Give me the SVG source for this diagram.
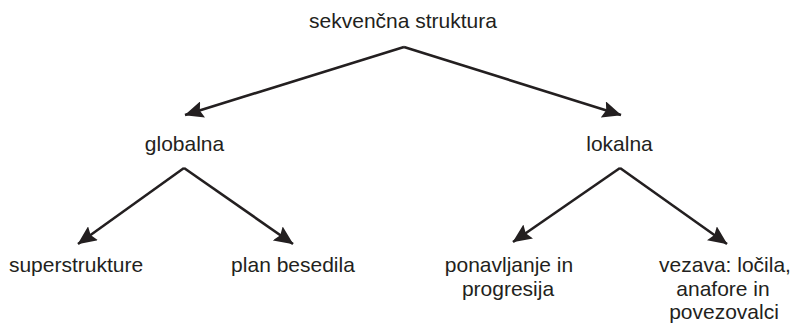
<svg xmlns="http://www.w3.org/2000/svg" width="795" height="324" viewBox="0 0 795 324">
  <style>
    .t { font-family: "Liberation Sans", Arial, sans-serif; font-size: 21px; fill: #231f20; text-anchor: middle; }
    .c { stroke: #231f20; stroke-width: 2.6; fill: none; marker-end: url(#ah); }
  </style>
  <defs>
    <marker id="ah" viewBox="0 0 19 17" refX="18.5" refY="8.5" markerWidth="19" markerHeight="17" markerUnits="userSpaceOnUse" orient="auto">
      <path d="M0,0 L19,8.5 L0,17 L3,8.5 z" fill="#231f20"/>
    </marker>
  </defs>
  <rect width="795" height="324" fill="#ffffff"/>
  <g id="connectors">
    <line class="c" x1="404" y1="47" x2="185" y2="115"/>
    <line class="c" x1="404" y1="47" x2="621" y2="115"/>
    <line class="c" x1="184" y1="168" x2="78" y2="244"/>
    <line class="c" x1="184" y1="168" x2="293" y2="244"/>
    <line class="c" x1="620" y1="168" x2="513" y2="242"/>
    <line class="c" x1="620" y1="168" x2="727" y2="244"/>
  </g>
  <g id="root"><text class="t" x="403" y="28">sekvenčna struktura</text></g>
  <g id="globalna"><text class="t" x="184.5" y="151">globalna</text></g>
  <g id="lokalna"><text class="t" x="619.5" y="151">lokalna</text></g>
  <g id="superstrukture"><text class="t" x="76" y="272">superstrukture</text></g>
  <g id="plan"><text class="t" x="293" y="272">plan besedila</text></g>
  <g id="ponavljanje">
    <text class="t" x="509" y="272">ponavljanje in</text>
    <text class="t" x="508" y="295.5">progresija</text>
  </g>
  <g id="vezava">
    <text class="t" x="725" y="272">vezava: ločila,</text>
    <text class="t" x="723" y="295.5">anafore in</text>
    <text class="t" x="724" y="319">povezovalci</text>
  </g>
</svg>
